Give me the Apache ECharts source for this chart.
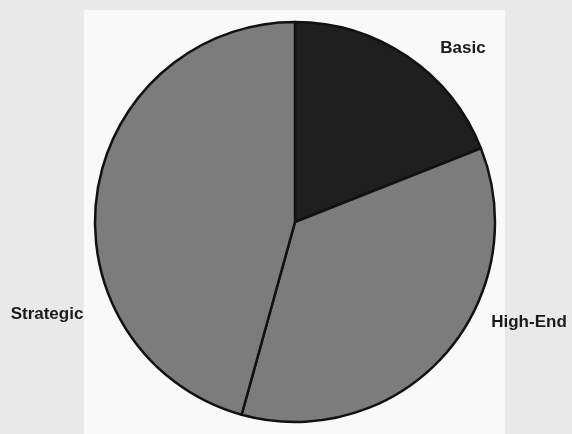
<!DOCTYPE html>
<html>
<head>
<meta charset="utf-8">
<script src="https://cdn.jsdelivr.net/npm/echarts@6/dist/echarts.min.js"></script>
<style>
  html, body { margin: 0; padding: 0; background: #e9e9e9; }
  #chart { width: 572px; height: 434px; }
</style>
</head>
<body>
<div id="chart"></div>
<script>
// segment names and shares (%), clockwise from 12 o'clock
var segments = ["Basic", "High-End", "Strategic"];
var shares = [19, 35.3, 45.7];
var colors = ["#1f1f1f", "#7c7c7c", "#7c7c7c"];

// where each label sits (hand placed, as in the original)
var labelSpots = {
  "Basic": [463, 48],
  "High-End": [529, 322],
  "Strategic": [47, 314]
};

var chart = echarts.init(document.getElementById("chart"), null, { renderer: "canvas" });

chart.setOption({
  backgroundColor: "#e9e9e9",
  animation: false,
  graphic: [
    {
      type: "rect",
      z: -10,
      shape: { x: 84, y: 10, width: 421, height: 430 },
      style: { fill: "#f9f9f9" }
    }
  ],
  series: [
    {
      type: "pie",
      center: [295, 222],
      radius: [0, 200],
      startAngle: 90,
      clockwise: true,
      data: segments.map(function (name, i) {
        return { name: name, value: shares[i], itemStyle: { color: colors[i] } };
      }),
      itemStyle: { borderColor: "#111", borderWidth: 2.5 },
      label: {
        show: true,
        position: "outside",
        color: "#1a1a1a",
        fontFamily: "Liberation Sans, Arial, sans-serif",
        fontWeight: "bold",
        fontSize: 17,
        overflow: "none",
        formatter: "{b}"
      },
      labelLine: { show: false },
      labelLayout: function (params) {
        var name = segments[params.dataIndex];
        var p = labelSpots[name];
        return { x: p[0], y: p[1], align: "center", verticalAlign: "middle" };
      },
      emphasis: { disabled: true }
    }
  ]
});
</script>
</body>
</html>
